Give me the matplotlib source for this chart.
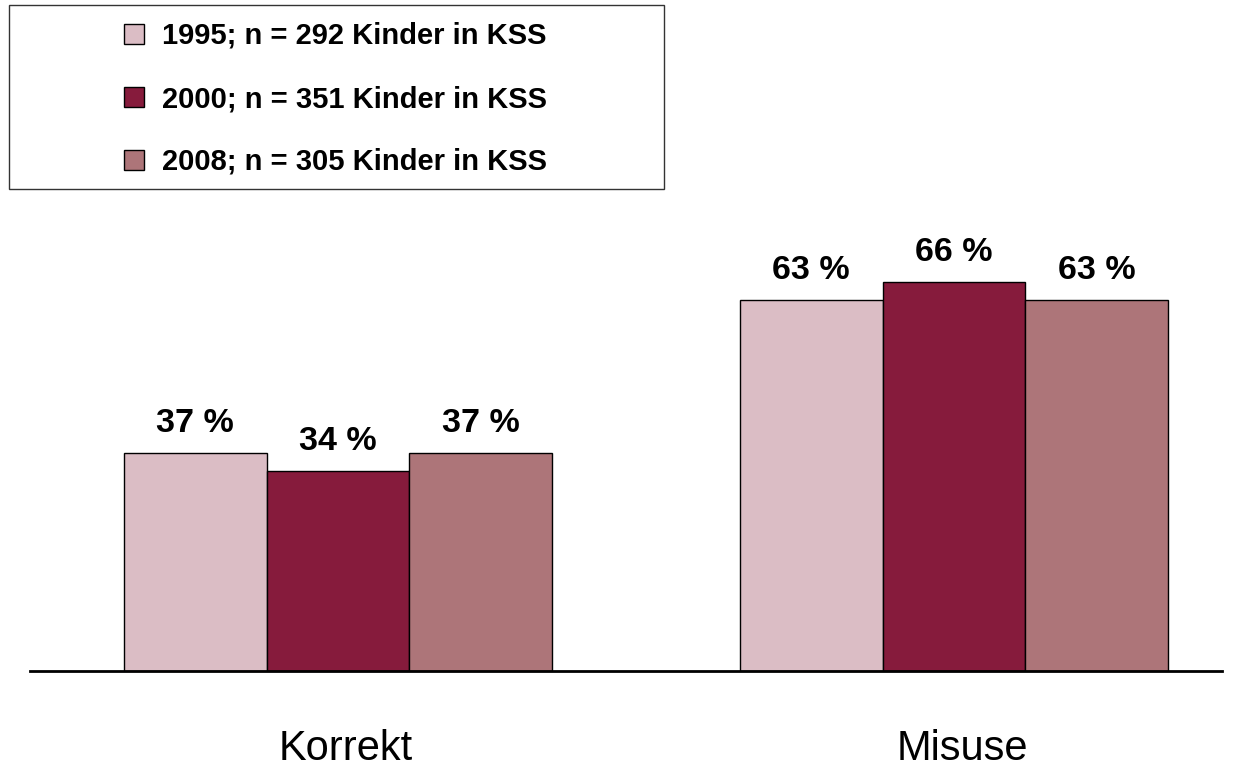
import numpy as np
import matplotlib
matplotlib.use('Agg')
import matplotlib.pyplot as plt
import matplotlib.transforms as mtransforms
from matplotlib.patches import Rectangle, Patch

plt.rcParams['font.family'] = ['Liberation Sans', 'DejaVu Sans']

# Data
categories = ['Korrekt', 'Misuse']
series_labels = ['1995; n = 292 Kinder in KSS',
                 '2000; n = 351 Kinder in KSS',
                 '2008; n = 305 Kinder in KSS']
values = [
    [37, 63],  # 1995
    [34, 66],  # 2000
    [37, 63],  # 2008
]
colors = ['#DBBDC5', '#861B3C', '#AD7579']

fig = plt.figure(figsize=(12.45, 7.71), dpi=100)
ax = fig.add_axes([30 / 1245, 1 - 671 / 771, (1222 - 30) / 1245, 412.3 / 771])

x = np.arange(len(categories))
w = 0.232
for i, (vals, col) in enumerate(zip(values, colors)):
    pos = x + (i - 1) * w
    bars = ax.bar(pos, vals, width=w, color=col, edgecolor='black', linewidth=1,
                  label=series_labels[i])
    for b, v in zip(bars, vals):
        ax.annotate(f'{v} %', (b.get_x() + b.get_width() / 2, b.get_height()),
                    xytext=(0, 15), textcoords='offset points',
                    ha='center', va='baseline', fontsize=24.5, fontweight='bold')

ax.set_xlim(-0.5, 1.435)
ax.set_ylim(0, 70)
ax.set_yticks([])
ax.set_xticks(x)
ax.set_xticklabels(categories, fontsize=30)
ax.tick_params(axis='x', length=0, pad=42)
offset = mtransforms.ScaledTranslation(8 / 100, 0, fig.dpi_scale_trans)
for lbl in ax.get_xticklabels():
    lbl.set_transform(lbl.get_transform() + offset)
for s in ['top', 'right', 'left']:
    ax.spines[s].set_visible(False)
ax.spines['bottom'].set_linewidth(2)

# Legend box
fig.patches.append(Rectangle((9 / 1245, 1 - 189 / 771), 655 / 1245, 184 / 771,
                             transform=fig.transFigure, fill=False,
                             edgecolor='#333333', linewidth=1))
handles = [Patch(facecolor=c, edgecolor='black', linewidth=1) for c in colors]
fig.legend(handles, series_labels, loc='center left',
           bbox_to_anchor=(124 / 1245, 1 - 99 / 771), frameon=False,
           prop={'size': 21, 'weight': 'bold'}, handlelength=0.68, handleheight=0.68,
           handletextpad=0.62, labelspacing=1.2, borderpad=0, borderaxespad=0)

fig.savefig('out.png', dpi=100)
